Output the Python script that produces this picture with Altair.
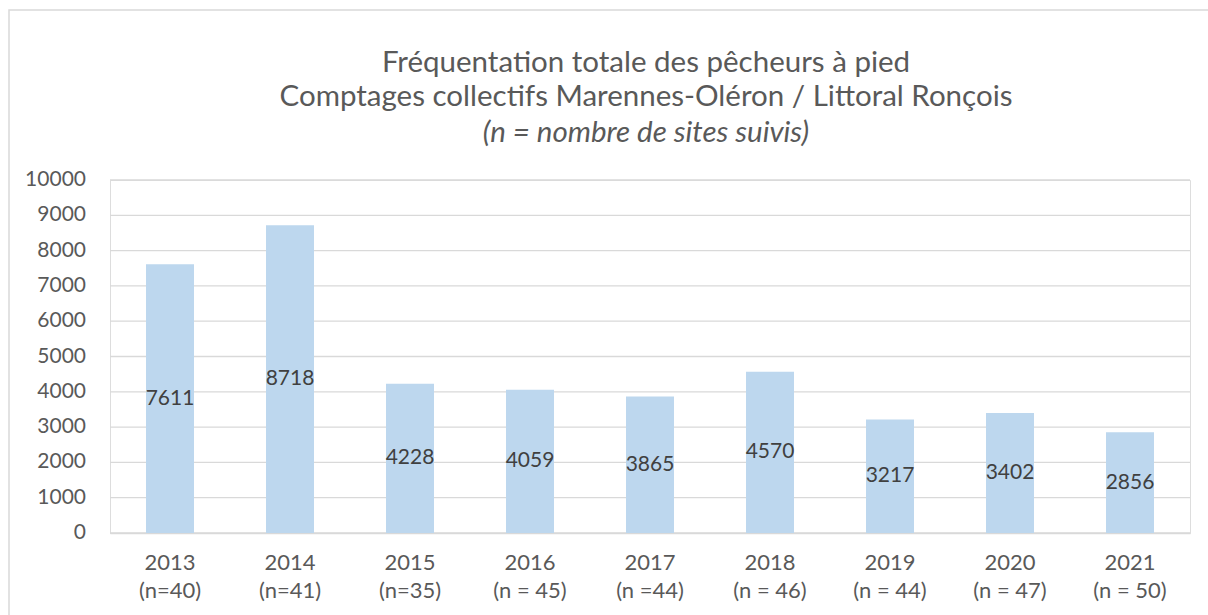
import altair as alt
import pandas as pd

years = ["2013", "2014", "2015", "2016", "2017", "2018", "2019", "2020", "2021"]
n_labels = ["(n=40)", "(n=41)", "(n=35)", "(n = 45)", "(n =44)", "(n = 46)", "(n = 44)", "(n = 47)", "(n = 50)"]
values = [7611, 8718, 4228, 4059, 3865, 4570, 3217, 3402, 2856]
y_ticks = [0, 1000, 2000, 3000, 4000, 5000, 6000, 7000, 8000, 9000, 10000]

title_lines = ["Fréquentation totale des pêcheurs à pied",
               "Comptages collectifs Marennes-Oléron / Littoral Ronçois"]
subtitle_line = "(n = nombre de sites suivis)"

cats = [f"{y}|{n}" for y, n in zip(years, n_labels)]
df = pd.DataFrame({"cat": cats, "value": values})
df["half"] = df["value"] / 2
ticks_df = pd.DataFrame({"tick": y_ticks})

FONT = "Lato"
GREY = "#595959"

x_axis = alt.Axis(labelExpr="split(datum.label, '|')", labelAngle=0,
                  labelFontSize=22, labelColor=GREY, labelFont=FONT,
                  labelPadding=19, labelLineHeight=28, ticks=False,
                  domainColor="#D9D9D9", domainWidth=1.3, grid=False)
y_scale = alt.Scale(domain=[0, 10000], nice=False)
x_scale = alt.Scale(paddingInner=0.6, paddingOuter=0.3)

grid = alt.Chart(ticks_df).mark_rule(color="#D9D9D9", strokeWidth=1.3).encode(
    y=alt.Y("tick:Q", scale=y_scale, axis=None),
    x=alt.value(0), x2=alt.value(1080),
)

ylabels = alt.Chart(ticks_df).mark_text(
    fontSize=21, font=FONT, color=GREY, align="right", baseline="middle"
).encode(
    y=alt.Y("tick:Q", scale=y_scale, axis=None),
    x=alt.value(-24),
    text=alt.Text("tick:Q", format="d"),
)

bars = alt.Chart(df).mark_bar(color="#BDD7EE").encode(
    x=alt.X("cat:N", sort=cats, title=None, scale=x_scale, axis=x_axis),
    y=alt.Y("value:Q", title=None, scale=y_scale, axis=None),
)

labels = alt.Chart(df).mark_text(fontSize=21, color="#404040", font=FONT,
                                 baseline="middle").encode(
    x=alt.X("cat:N", sort=cats, title=None, scale=x_scale, axis=x_axis),
    y=alt.Y("half:Q", title=None, scale=y_scale, axis=None),
    text=alt.Text("value:Q", format="d"),
)

border = alt.Chart(df.head(1)).mark_rect(fill=None, stroke="#D9D9D9",
                                         strokeWidth=1.5).encode(
    x=alt.value(-101), x2=alt.value(1200), y=alt.value(-170), y2=alt.value(480)
)

def title_text(txt, ypos, style="normal"):
    return alt.Chart(pd.DataFrame({"t": [txt]})).mark_text(
        fontSize=29.5, font=FONT, color=GREY, align="center", baseline="middle",
        fontStyle=style
    ).encode(x=alt.value(536), y=alt.value(ypos), text="t:N")

t1 = title_text(title_lines[0], -117)
t2 = title_text(title_lines[1], -83)
t3 = title_text(subtitle_line, -47, "italic")

chart = alt.layer(border, grid, ylabels, bars, labels, t1, t2, t3).properties(
    width=1080, height=353,
    padding={"left": 110, "top": 180, "right": 18, "bottom": 82},
    autosize=alt.AutoSizeParams(type="none"),
).configure_view(stroke=None).configure(background="white")

chart.save("out.html", embed_options={"renderer": "svg", "actions": False})
